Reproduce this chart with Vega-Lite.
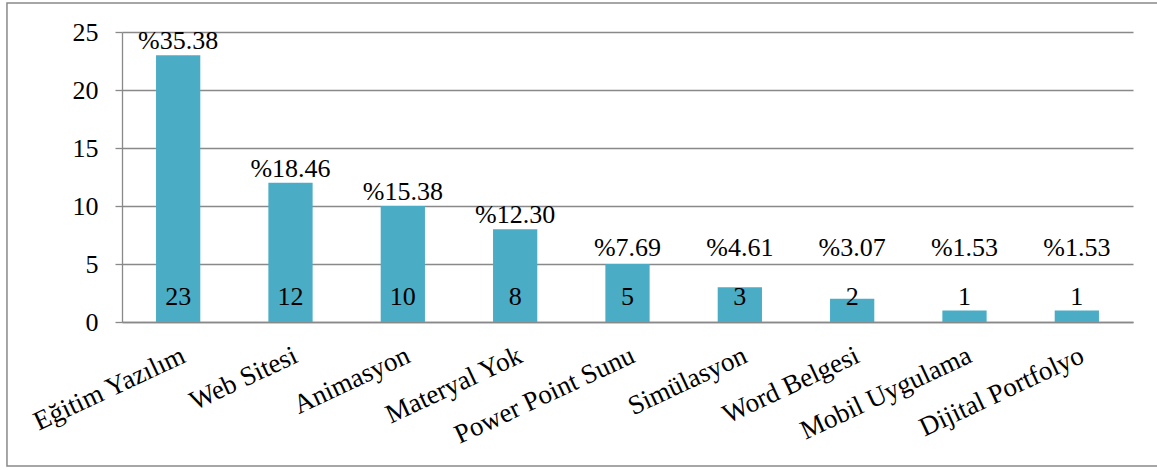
{
  "$schema": "https://vega.github.io/schema/vega-lite/v6.json",
  "width": 1011,
  "height": 290,
  "autosize": {"type": "none"},
  "padding": {"left": 122, "top": 32, "right": 24, "bottom": 148},
  "background": "white",
  "config": {
    "view": {"stroke": null},
    "font": "Liberation Serif",
    "axis": {
      "labelFont": "Liberation Serif",
      "labelFontSize": 26,
      "labelColor": "#000000",
      "domainColor": "#898989",
      "domainWidth": 1.3,
      "tickColor": "#898989",
      "tickWidth": 1.3,
      "gridColor": "#898989",
      "gridWidth": 1.3,
      "title": null
    }
  },
  "data": {
    "values": [
      {"materyal": "Eğitim Yazılım", "sayi": 23, "yuzde": "%35.38"},
      {"materyal": "Web Sitesi", "sayi": 12, "yuzde": "%18.46"},
      {"materyal": "Animasyon", "sayi": 10, "yuzde": "%15.38"},
      {"materyal": "Materyal Yok", "sayi": 8, "yuzde": "%12.30"},
      {"materyal": "Power Point Sunu", "sayi": 5, "yuzde": "%7.69"},
      {"materyal": "Simülasyon", "sayi": 3, "yuzde": "%4.61"},
      {"materyal": "Word Belgesi", "sayi": 2, "yuzde": "%3.07"},
      {"materyal": "Mobil Uygulama", "sayi": 1, "yuzde": "%1.53"},
      {"materyal": "Dijital Portfolyo", "sayi": 1, "yuzde": "%1.53"}
    ]
  },
  "layer": [
    {
      "data": {"values": [{}]},
      "mark": {"type": "rect", "filled": false, "stroke": "#898989", "strokeWidth": 1.5},
      "encoding": {
        "x": {"datum": -1.524, "type": "quantitative", "scale": {"domain": [-0.5, 8.5], "nice": false, "zero": false}, "axis": null},
        "x2": {"datum": 8.8},
        "y": {"datum": 27.5, "type": "quantitative", "scale": {"domain": [0, 25], "nice": false}},
        "y2": {"datum": -12.41}
      }
    },
    {
      "encoding": {
        "x": {
          "field": "materyal",
          "type": "nominal",
          "sort": null,
          "scale": {"paddingInner": 0.606, "paddingOuter": 0.303},
          "axis": {"labelAngle": -25, "labelAlign": "right", "labelBaseline": "top", "ticks": false, "labelPadding": 20, "labelFontSize": 27, "labelLimit": 400}
        }
      },
      "layer": [
        {
          "mark": {"type": "bar", "color": "#4BACC6"},
          "encoding": {
            "y": {
              "field": "sayi",
              "type": "quantitative",
              "scale": {"domain": [0, 25], "nice": false},
              "axis": {"values": [0, 5, 10, 15, 20, 25], "tickSize": 7, "labelPadding": 17, "grid": true}
            }
          }
        },
        {
          "transform": [{"calculate": "max(datum.sayi, 5.2)", "as": "etiketKonum"}],
          "mark": {"type": "text", "fontSize": 26, "color": "#000000", "baseline": "alphabetic", "dy": -6},
          "encoding": {
            "y": {"field": "etiketKonum", "type": "quantitative"},
            "text": {"field": "yuzde"}
          }
        },
        {
          "mark": {"type": "text", "fontSize": 26, "color": "#000000", "baseline": "alphabetic", "dy": -17},
          "encoding": {
            "y": {"datum": 0, "type": "quantitative"},
            "text": {"field": "sayi"}
          }
        }
      ]
    }
  ],
  "resolve": {"scale": {"x": "independent"}, "axis": {"x": "independent"}}
}
